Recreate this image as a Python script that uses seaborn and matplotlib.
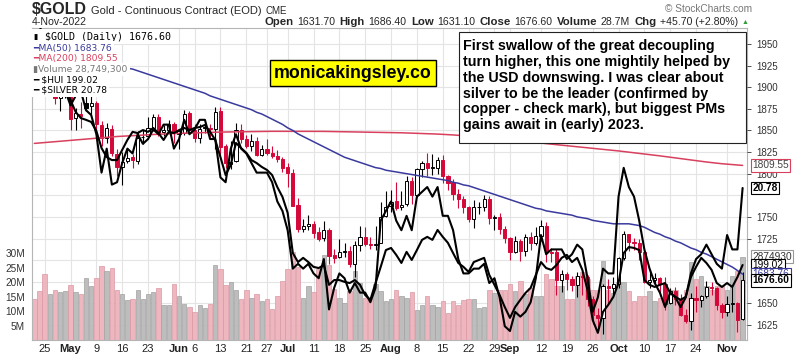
import matplotlib
matplotlib.use("Agg")
import matplotlib.pyplot as plt
from matplotlib.patches import Rectangle
from matplotlib import transforms
import numpy as np
import pandas as pd
import seaborn as sns

# trading days (CME closed on these)
holidays = ["2022-05-30", "2022-06-20", "2022-07-04", "2022-09-05"]
dates = pd.bdate_range("2022-04-21", "2022-11-04")
dates = dates[~dates.isin(pd.to_datetime(holidays))]

opens = [1956, 1948, 1932, 1898, 1905, 1888, 1893, 1905, 1864, 1869,
         1882, 1878, 1882, 1856, 1841, 1852, 1823, 1808, 1815, 1819,
         1815, 1842, 1843, 1853, 1866, 1848, 1851, 1857, 1846, 1847,
         1870, 1851, 1841, 1853, 1853, 1852, 1872, 1832, 1811, 1815,
         1851, 1840, 1832, 1838, 1822, 1829, 1824, 1821, 1817, 1808,
         1801, 1764, 1736, 1740, 1742, 1732, 1726, 1735, 1706, 1704,
         1709, 1711, 1696, 1718, 1727, 1719, 1718, 1720, 1751, 1763,
         1768, 1761, 1765, 1792, 1775, 1805, 1812, 1807, 1807, 1816,
         1797, 1790, 1776, 1771, 1762, 1748, 1761, 1761, 1771, 1749,
         1750, 1736, 1726, 1709, 1722, 1710, 1727, 1720, 1728, 1740,
         1709, 1709, 1677, 1684, 1678, 1671, 1682, 1681, 1655, 1636,
         1633, 1670, 1668, 1672, 1702, 1730, 1721, 1720, 1709, 1675,
         1677, 1679, 1672, 1650, 1664, 1655, 1636, 1629, 1656, 1654,
         1658, 1669, 1668, 1648, 1640, 1649, 1650, 1631.7]
highs = [1959, 1953, 1934, 1912, 1907, 1893, 1919, 1908, 1876, 1883,
         1909, 1891, 1884, 1861, 1859, 1856, 1829, 1825, 1830, 1823,
         1849, 1850, 1866, 1869, 1869, 1856, 1862, 1860, 1852, 1874,
         1873, 1858, 1857, 1858, 1858, 1877, 1877, 1834, 1838, 1859,
         1858, 1845, 1846, 1842, 1833, 1840, 1832, 1827, 1819, 1812,
         1805, 1772, 1748, 1752, 1745, 1738, 1745, 1737, 1713, 1724,
         1720, 1716, 1722, 1739, 1738, 1727, 1740, 1767, 1780, 1781,
         1790, 1780, 1797, 1796, 1807, 1815, 1824, 1823, 1819, 1822,
         1799, 1794, 1782, 1774, 1763, 1769, 1767, 1775, 1774, 1752,
         1755, 1740, 1727, 1728, 1725, 1730, 1732, 1738, 1746, 1744,
         1714, 1713, 1689, 1686, 1682, 1686, 1685, 1683, 1659, 1645,
         1672, 1678, 1680, 1704, 1734, 1730, 1726, 1725, 1710, 1690,
         1685, 1680, 1680, 1668, 1669, 1661, 1644, 1662, 1670, 1660,
         1676, 1675, 1669, 1650, 1658, 1670, 1652, 1686.4]
lows = [1940, 1929, 1891, 1895, 1881, 1872, 1888, 1851, 1850, 1853,
        1872, 1869, 1849, 1832, 1836, 1820, 1797, 1787, 1812, 1806,
        1811, 1834, 1840, 1849, 1843, 1844, 1849, 1836, 1829, 1845,
        1846, 1837, 1836, 1847, 1842, 1828, 1821, 1806, 1805, 1813,
        1835, 1830, 1826, 1821, 1820, 1822, 1818, 1814, 1802, 1785,
        1763, 1732, 1733, 1735, 1726, 1722, 1722, 1696, 1697, 1702,
        1704, 1692, 1681, 1711, 1716, 1713, 1712, 1720, 1750, 1756,
        1758, 1758, 1763, 1765, 1773, 1796, 1797, 1798, 1800, 1789,
        1781, 1770, 1760, 1755, 1744, 1737, 1753, 1757, 1742, 1735,
        1730, 1720, 1700, 1708, 1699, 1705, 1712, 1717, 1722, 1698,
        1698, 1660, 1663, 1665, 1664, 1657, 1660, 1647, 1626, 1622,
        1615, 1650, 1660, 1668, 1700, 1710, 1712, 1700, 1673, 1668,
        1673, 1659, 1642, 1649, 1648, 1635, 1627, 1619, 1640, 1646,
        1656, 1660, 1642, 1633, 1635, 1640, 1617, 1631.1]
closes = [1948, 1934, 1898, 1904, 1888, 1891, 1911, 1863, 1870, 1867,
          1876, 1882, 1858, 1841, 1853, 1824, 1808, 1814, 1818, 1816,
          1841, 1842, 1853, 1866, 1846, 1850, 1857, 1848, 1849, 1869,
          1850, 1841, 1852, 1853, 1852, 1871, 1831, 1812, 1813, 1851,
          1840, 1832, 1838, 1822, 1829, 1824, 1821, 1817, 1807, 1801,
          1763, 1736, 1739, 1742, 1731, 1725, 1735, 1705, 1703, 1709,
          1711, 1695, 1718, 1727, 1719, 1717, 1719, 1750, 1762, 1767,
          1760, 1764, 1791, 1775, 1805, 1812, 1806, 1807, 1816, 1797,
          1789, 1776, 1771, 1762, 1748, 1761, 1761, 1771, 1749, 1750,
          1736, 1726, 1709, 1722, 1710, 1727, 1720, 1728, 1740, 1709,
          1708, 1677, 1684, 1678, 1671, 1682, 1681, 1655, 1636, 1633,
          1670, 1668, 1672, 1702, 1730, 1721, 1720, 1709, 1675, 1677,
          1679, 1672, 1649, 1664, 1655, 1636, 1629, 1656, 1654, 1658,
          1669, 1668, 1648, 1640, 1649, 1650, 1630.9, 1676.6]
vol_m = [14.0, 17.0, 22.7, 16.0, 17.2, 16.7, 17.0, 19.0, 16.5, 16.0,
         21.5, 18.6, 21.5, 25.6, 23.7, 25.0, 17.4, 15.7, 13.7, 14.0,
         17.2, 14.0, 15.7, 16.6, 17.9, 12.0, 12.0, 19.4, 15.3, 12.4,
         11.4, 9.6, 11.9, 11.0, 12.4, 26.0, 24.6, 18.8, 20.0, 17.4,
         14.0, 17.4, 14.5, 16.0, 13.6, 14.0, 10.7, 15.3, 20.3, 24.4,
         30.2, 25.3, 14.5, 18.6, 16.6, 24.4, 29.3, 25.8, 17.7, 14.5,
         12.8, 16.9, 23.8, 19.8, 14.5, 14.2, 19.2, 17.0, 13.4, 14.0,
         17.2, 15.1, 14.5, 16.5, 10.2, 11.9, 15.3, 11.9, 11.4, 13.6,
         9.3, 13.6, 12.2, 13.7, 14.0, 14.2, 11.0, 11.4, 17.2, 16.3,
         17.2, 17.4, 19.4, 16.9, 20.3, 15.7, 18.0, 15.3, 15.3, 22.9,
         20.9, 18.6, 18.6, 14.2, 14.0, 22.0, 23.3, 20.9, 17.4, 17.4,
         27.3, 17.4, 16.3, 20.0, 20.0, 16.9, 13.6, 15.1, 15.1, 16.9,
         13.4, 14.5, 16.9, 17.4, 17.4, 14.5, 17.4, 27.0, 20.9, 22.1,
         18.6, 17.4, 18.6, 18.6, 17.4, 22.1, 23.8, 28.7493]
ma50 = [1935, 1934, 1934, 1933, 1933, 1932, 1932, 1931, 1931, 1930,
        1930, 1929, 1928, 1927, 1926, 1925, 1924, 1923, 1922, 1921,
        1919, 1917, 1915, 1913, 1911, 1909, 1907, 1905, 1903, 1901,
        1899, 1897, 1895, 1893, 1890, 1888, 1886, 1884, 1882, 1880,
        1878, 1876, 1874, 1871, 1869, 1866, 1863, 1860, 1857, 1853,
        1850, 1846, 1843, 1840, 1837, 1834, 1831, 1828, 1825, 1822,
        1819, 1817, 1815, 1813, 1811, 1809, 1807, 1806, 1804, 1803,
        1802, 1801, 1800, 1799, 1798, 1797, 1796, 1795, 1794, 1793,
        1792, 1790, 1789, 1787, 1786, 1784, 1782, 1780, 1778, 1776,
        1774, 1772, 1770, 1768, 1766, 1764, 1762, 1760, 1759, 1757,
        1756, 1755, 1754, 1753, 1752, 1750, 1749, 1748, 1746, 1745,
        1744, 1743, 1742, 1742, 1742, 1742, 1741, 1740, 1738, 1735,
        1732, 1730, 1727, 1725, 1722, 1720, 1717, 1714, 1712, 1709,
        1707, 1704, 1701, 1698, 1695, 1692, 1688, 1683.76]
ma200 = [1835, 1835.5, 1836, 1836.5, 1837, 1837.5, 1838, 1838.5, 1839, 1839.5,
         1840, 1840.5, 1841, 1841.5, 1842, 1842.5, 1843, 1843.3, 1843.6, 1844,
         1844.3, 1844.6, 1845, 1845.3, 1845.6, 1846, 1846.2, 1846.4, 1846.6, 1846.8,
         1847, 1847.2, 1847.4, 1847.6, 1847.8, 1848, 1848.1, 1848.2, 1848.3, 1848.4,
         1848.5, 1848.6, 1848.7, 1848.8, 1848.9, 1849, 1849, 1849, 1849, 1849,
         1849, 1849, 1849, 1849, 1849, 1849, 1848.9, 1848.8, 1848.7, 1848.6,
         1848.5, 1848.4, 1848.3, 1848.2, 1848.1, 1848, 1847.9, 1847.8, 1847.7, 1847.6,
         1847.5, 1847.3, 1847.1, 1846.9, 1846.7, 1846.5, 1846.3, 1846.1, 1845.8, 1845.5,
         1845.2, 1844.8, 1844.4, 1844, 1843.5, 1843, 1842.5, 1842, 1841.4, 1840.8,
         1840.2, 1839.6, 1839, 1838.4, 1837.8, 1837.2, 1836.6, 1836, 1835.4, 1834.8,
         1834.2, 1833.6, 1833, 1832.4, 1831.8, 1831.2, 1830.6, 1830, 1829.4, 1828.8,
         1828.2, 1827.6, 1827, 1826.3, 1825.6, 1824.9, 1824.2, 1823.5, 1822.8, 1822.1,
         1821.4, 1820.6, 1819.8, 1819, 1818.2, 1817.4, 1816.6, 1815.8, 1815, 1814.2,
         1813.5, 1812.8, 1812.1, 1811.5, 1811, 1810.5, 1810, 1809.55]
hui = [267.4, 264.0, 260.7, 262.4, 259.0, 257.4, 258.0, 254.0, 250.0, 248.0,
       247.4, 246.7, 243.7, 238.0, 235.0, 234.0, 234.0, 237.4, 240.7, 243.4,
       243.0, 244.0, 243.4, 244.7, 243.0, 240.7, 243.4, 243.0, 244.0, 244.7,
       244.0, 244.7, 245.0, 245.7, 243.4, 240.7, 235.0, 229.0, 232.4, 239.7,
       238.0, 236.4, 234.0, 233.0, 231.7, 230.7, 229.0, 225.0, 221.7, 216.4,
       203.0, 200.0, 201.4, 200.0, 198.4, 198.0, 199.0, 192.4, 194.0, 194.0,
       193.4, 193.0, 194.0, 192.4, 189.0, 187.4, 193.0, 198.4, 204.0, 204.7,
       202.4, 199.7, 203.4, 200.7, 204.0, 207.4, 208.4, 207.4, 210.7, 208.4,
       206.4, 203.0, 199.7, 198.4, 196.7, 200.0, 200.7, 201.4, 195.7, 192.4,
       189.0, 185.0, 181.4, 185.0, 187.4, 189.7, 191.4, 195.7, 200.0, 198.0,
       197.4, 199.0, 201.4, 202.4, 200.0, 201.4, 197.4, 190.7, 180.7, 176.4,
       183.4, 185.7, 188.4, 193.0, 203.0, 205.0, 204.7, 204.0, 194.0, 192.4,
       191.7, 192.4, 193.0, 189.7, 188.4, 187.4, 188.4, 195.0, 198.4, 201.4,
       199.7, 197.4, 193.0, 191.7, 193.0, 191.7, 195.0, 199.02]
silver = [24.75, 24.2, 23.7, 23.85, 23.4, 23.1, 22.8, 22.5, 22.7, 22.8,
          22.4, 22.3, 21.9, 21.1, 21.6, 20.85, 20.9, 21.3, 21.6, 21.5,
          21.9, 21.7, 21.8, 22.0, 21.9, 22.1, 22.1, 21.6, 21.8, 22.2,
          21.9, 22.0, 22.2, 22.2, 21.8, 21.8, 21.0, 20.9, 21.6, 21.9,
          21.6, 21.5, 21.3, 21.1, 21.1, 21.1, 20.9, 20.5, 20.3, 19.9,
          19.1, 19.2, 19.1, 19.2, 19.0, 18.9, 19.3, 18.25, 18.7, 19.0,
          18.9, 18.6, 18.8, 18.6, 18.6, 18.4, 18.7, 20.1, 20.3, 20.5,
          20.1, 19.9, 20.2, 19.9, 20.6, 20.7, 20.8, 20.6, 20.8, 20.2,
          20.2, 19.9, 19.3, 19.0, 19.0, 19.1, 19.1, 19.2, 18.8, 18.9,
          18.5, 17.9, 17.8, 18.2, 18.1, 18.2, 18.4, 18.9, 19.8, 19.4,
          19.5, 19.5, 19.5, 19.3, 19.4, 19.6, 19.5, 18.9, 18.2, 18.5,
          19.1, 19.0, 19.0, 20.6, 21.2, 20.8, 20.6, 20.1, 19.5, 19.1,
          18.8, 18.6, 18.3, 18.6, 18.5, 18.3, 18.5, 19.0, 19.3, 19.4,
          19.6, 19.4, 19.2, 19.1, 19.8, 19.5, 19.5, 20.78]

tick_dates = ["2022-04-25", "2022-05-02", "2022-05-09", "2022-05-16", "2022-05-23",
              "2022-06-01", "2022-06-06", "2022-06-13", "2022-06-21", "2022-06-27",
              "2022-07-01", "2022-07-11", "2022-07-18", "2022-07-25", "2022-08-01",
              "2022-08-08", "2022-08-15", "2022-08-22", "2022-08-29", "2022-09-01",
              "2022-09-12", "2022-09-19", "2022-09-26", "2022-10-03", "2022-10-10",
              "2022-10-17", "2022-10-24", "2022-11-01"]
tick_labels = ["25", "May", "9", "16", "23", "Jun", "6", "13", "21", "27", "Jul",
               "11", "18", "25", "Aug", "8", "15", "22", "29", "Sep", "12", "19",
               "26", "Oct", "10", "17", "24", "Nov"]
price_grid = list(range(1625, 1951, 25))
price_labels = [1625, 1650, 1725, 1750, 1800, 1825, 1850, 1875, 1900, 1925, 1950]
vol_ticks = [5, 10, 15, 20, 25, 30]

note = ("First swallow of the great decoupling\n"
        "turn higher, this one mightily helped by\n"
        "the USD downswing. I was clear about\n"
        "silver to be the leader (confirmed by\n"
        "copper - check mark), but biggest PMs\n"
        "gains await in (early) 2023.")

RED = "#d4093a"
NAVY = "#3a3a9e"
CRIMSON = "#d8405e"
PINK = "#eeb6bf"
GREY = "#bdbdbd"

W, H = 803, 358
sns.set_style("white")
plt.rcParams["font.family"] = ["Liberation Sans", "DejaVu Sans"]

fig = plt.figure(figsize=(W / 100, H / 100), dpi=100)
fig.patch.set_facecolor("white")
renderer = fig.canvas.get_renderer()


def fx(px):
    return px / W


def fy(py):
    return 1 - py / H


L, R, T, B = 32, 747, 28, 340
ax = fig.add_axes([fx(L), fy(B), (R - L) / W, (B - T) / H])
n = len(dates)
x = np.arange(n)
xlim = (-0.45, n - 0.15)

# price axis on top of the volume axis
axp = ax.twinx()
axp.set_ylim(1607.6, 1968.5)

# volume bars, red when the close fell
prev = np.r_[opens[0], closes[:-1]]
down = np.array(closes) < prev
ax.bar(x, vol_m, width=0.86, color=np.where(down, PINK, GREY),
       edgecolor=np.where(down, "#dc98a4", "#a2a2a2"), linewidth=0.5, zorder=2)
ax.set_ylim(0, 107.6)
ax.set_xlim(*xlim)

# grid
tick_idx = [int(dates.get_loc(pd.Timestamp(d))) for d in tick_dates]
for k in tick_idx:
    ax.axvline(k, color="#e4e4e4", lw=0.8, zorder=0)
gtrans = transforms.blended_transform_factory(ax.transAxes, axp.transData)
for p in price_grid:
    ax.plot([0, 1], [p, p], transform=gtrans, color="#e4e4e4", lw=0.8,
            zorder=0, scalex=False, scaley=False)

ax.set_xticks(tick_idx)
ax.set_xticklabels(tick_labels)
for lab in ax.get_xticklabels():
    lab.set_fontweight("bold" if lab.get_text().isalpha() else "normal")
ax.set_yticks(vol_ticks)
ax.set_yticklabels([f"{v}M" for v in vol_ticks])
ax.tick_params(axis="x", length=0, pad=3, labelsize=8, colors="#222222")
ax.tick_params(axis="y", length=0, pad=5, labelsize=7.2, colors="#333333")
for s in ax.spines.values():
    s.set_color("#b5b5b5")
    s.set_linewidth(0.8)

# candles
for k in range(n):
    o, h, lo, c = opens[k], highs[k], lows[k], closes[k]
    col = RED if down[k] else "black"
    axp.vlines(k, lo, h, color=col, lw=0.8, zorder=2)
    body_lo, body_hi = min(o, c), max(o, c)
    axp.bar(k, max(body_hi - body_lo, 0.6), bottom=body_lo, width=0.62,
            color=col if c < o else "white", edgecolor=col, linewidth=0.7, zorder=3)

sns.lineplot(x=x, y=ma200, ax=axp, color=CRIMSON, lw=1.1, zorder=4)
sns.lineplot(x=x, y=ma50, ax=axp, color=NAVY, lw=1.1, zorder=4)
axp.set_ylim(1607.6, 1968.5)
axp.set_xlim(*xlim)
axp.set_yticks(price_labels)
axp.set_yticklabels([str(p) for p in price_labels])
axp.tick_params(axis="y", length=3, width=0.6, pad=4, labelsize=7, colors="#333333")
for s in axp.spines.values():
    s.set_visible(False)

axh = ax.twinx()
sns.lineplot(x=x, y=hui, ax=axh, color="black", lw=1.5)
axh.set_ylim(174.02, 278.02)
axh.set_xlim(*xlim)
axh.set_axis_off()

axs = ax.twinx()
sns.lineplot(x=x, y=silver, ax=axs, color="black", lw=1.5)
axs.set_ylim(17.613, 24.113)
axs.set_xlim(*xlim)
axs.set_axis_off()

# value tags on the right edge (they pile up as on the original)
tags = [
    (ax, vol_m[-1], f"{vol_m[-1] * 1e5:.0f}", "#333333", "#999999", "normal"),
    (axh, hui[-1], f"{hui[-1]:.2f}", "black", "black", "normal"),
    (axp, ma50[-1], f"{ma50[-1]:.2f}", NAVY, NAVY, "normal"),
    (axp, closes[-1], f"{closes[-1]:.2f}", "black", "black", "bold"),
    (axp, ma200[-1], f"{ma200[-1]:.2f}", "#444444", CRIMSON, "normal"),
    (axs, silver[-1], f"{silver[-1]:.2f}", "black", "black", "bold"),
]
for src, val, txt, tc, ec, fw in tags:
    tr = transforms.blended_transform_factory(axs.transAxes, src.transData)
    axs.annotate(txt, xy=(1.0, val), xycoords=tr, xytext=(4, 0),
                 textcoords="offset points", ha="left", va="center",
                 fontsize=7.3, color=tc, fontweight=fw, annotation_clip=False,
                 bbox=dict(boxstyle="square,pad=0.12", fc="white", ec=ec, lw=0.8))

# legend rows (white background hides lines beneath)
rows = [
    (f"\u25AE $GOLD (Daily) {closes[-1]:.2f}", "black", "DejaVu Sans Mono", 7.2),
    (f"\u2501MA(50) {ma50[-1]:.2f}", NAVY, "DejaVu Sans", 6.6),
    (f"\u2501MA(200) {ma200[-1]:.2f}", CRIMSON, "DejaVu Sans", 6.6),
    (f"\u25AEVolume {vol_m[-1] * 1e6:,.0f}", "#777777", "DejaVu Sans", 6.6),
    (f"\u2501 $HUI {hui[-1]:.2f}", "black", "DejaVu Sans", 6.6),
    (f"\u2501 $SILVER {silver[-1]:.2f}", "black", "DejaVu Sans", 6.6),
]
row_y = [36.5, 48, 59, 69.5, 80, 90.5]
for (txt, col, fam, fs), yy in zip(rows, row_y):
    fig.text(fx(33), fy(yy), txt, color=col, family=fam, fontsize=fs,
             ha="left", va="center", zorder=6,
             bbox=dict(boxstyle="square,pad=0.25", fc="white", ec="none"))

# brand label
fig.text(fx(353), fy(73), "monicakingsley.co", ha="center", va="center",
         fontsize=12.8, fontweight="bold", color="black", zorder=6,
         bbox=dict(boxstyle="square,pad=0.25", fc="#ffff00", ec="black", lw=1))

# commentary box
fig.patches.append(Rectangle((fx(459), fy(143)), (746 - 459) / W, (143 - 32) / H,
                             transform=fig.transFigure, fc="white", ec="#222222",
                             lw=0.8, zorder=5))
fig.text(fx(463), fy(39), note, ha="left", va="top", fontsize=10.3,
         fontweight="bold", color="black", linespacing=1.17, zorder=6)

# header: title pieces placed one after another
t1 = fig.text(fx(32), fy(10), "$GOLD", fontsize=11.5, fontweight="bold", va="center",
              family=["Liberation Sans Narrow", "Liberation Sans", "DejaVu Sans"])
w1 = t1.get_window_extent(renderer=renderer).width
t2 = fig.text(fx(32 + w1 + 4), fy(10.5), "Gold - Continuous Contract (EOD)",
              fontsize=8, va="center")
w2 = t2.get_window_extent(renderer=renderer).width
fig.text(fx(32 + w1 + 4 + w2 + 4), fy(11), "CME", fontsize=7, va="center")
fig.text(fx(32), fy(22), dates[-1].strftime("%-d-%b-%Y"), fontsize=7.6, va="center")
fig.text(fx(752), fy(8.5), "\u00A9 StockCharts.com", fontsize=7.3, color="#777777",
         ha="right", va="center")

chg = closes[-1] - closes[-2]
parts = [("Open", True), (f"{opens[-1]:.2f}", False), ("High", True), (f"{highs[-1]:.2f}", False),
         ("Low", True), (f"{lows[-1]:.2f}", False), ("Close", True), (f"{closes[-1]:.2f}", False),
         ("Volume", True), (f"{vol_m[-1]:.1f}M", False), ("Chg", True),
         (f"+{chg:.2f} (+{chg / closes[-2] * 100:.2f}%)", False)]
items = []
for s, bold in parts:
    t = fig.text(0, fy(22), s, fontsize=8.2 if bold else 7.6,
                 fontweight="bold" if bold else "normal", va="center", ha="left")
    items.append((t, t.get_window_extent(renderer=renderer).width, bold))
gaps = [3 if b else 5 for _, _, b in items]
total = sum(w for _, w, _ in items) + sum(gaps[:-1])
cur = 738 - total
for (t, w, b), g in zip(items, gaps):
    t.set_x(fx(cur))
    cur += w + g
fig.text(fx(cur - 1), fy(22), "\u25B2", fontsize=5, color="#2f9e3a", va="center")

fig.savefig("out.png", dpi=100, facecolor="white")
